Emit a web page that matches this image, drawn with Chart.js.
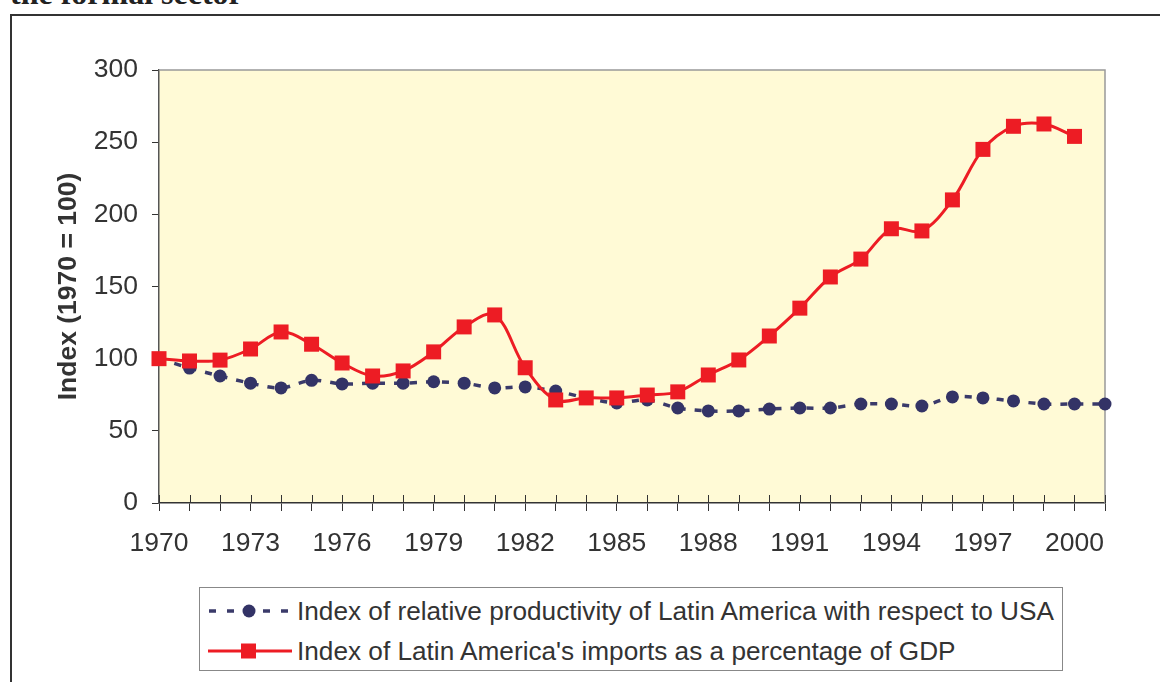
<!DOCTYPE html>
<html>
<head>
<meta charset="utf-8">
<script src="https://cdn.jsdelivr.net/npm/chart.js@4/dist/chart.umd.min.js"></script>
<style>
  html, body { margin: 0; padding: 0; background: #fff; }
  #wrap { position: relative; width: 1160px; height: 682px; overflow: hidden; }
  #title { position: absolute; left: 10px; top: -23px; font: bold 32px "Liberation Serif", "Times New Roman", serif; line-height: 32px; color: #222; white-space: nowrap; }
  #frame { position: absolute; left: 10px; top: 14px; width: 1200px; height: 700px; border-top: 2px solid #333; border-left: 2px solid #333; }
  #c { position: absolute; left: 0; top: 0; }
  #legend { position: absolute; left: 199px; top: 587px; width: 864px; height: 84px; border: 1px solid #888; background: #fff; box-sizing: border-box; }
  .row { position: absolute; left: 0; height: 36px; white-space: nowrap; }
  .row svg { position: absolute; left: 8px; top: 0; }
  .row span { position: absolute; left: 97px; font: 26.2px "Liberation Sans", Arial, sans-serif; color: #333; line-height: 36px; top: 0; }
</style>
</head>
<body>
<div id="wrap">
  <div id="title">the formal sector</div>
  <div id="frame"></div>
  <canvas id="c" width="1160" height="682"></canvas>
  <div id="legend">
    <div class="row" style="top:5px;">
      <svg width="84" height="36"><line x1="1" y1="18" x2="83" y2="18" stroke="#3a3a6a" stroke-width="3.5" stroke-dasharray="7,11"/><circle cx="41" cy="18" r="6.5" fill="#333366"/></svg>
      <span id="lab0"></span>
    </div>
    <div class="row" style="top:45px;">
      <svg width="84" height="36"><line x1="0" y1="18" x2="84" y2="18" stroke="#ED1C24" stroke-width="3"/><rect x="33" y="10.5" width="15" height="15" fill="#ED1C24"/></svg>
      <span id="lab1"></span>
    </div>
  </div>
</div>
<script>
const years = [1970,1971,1972,1973,1974,1975,1976,1977,1978,1979,1980,1981,1982,1983,1984,1985,1986,1987,1988,1989,1990,1991,1992,1993,1994,1995,1996,1997,1998,1999,2000,2001];
const productivity = [100,93.5,88,83,79.7,85,82.5,83,83,84,83,79.7,80.4,77.6,72.8,69.3,71.4,65.8,63.8,63.8,65.1,65.8,65.8,68.6,68.6,67.2,73.5,72.8,70.7,68.6,68.6,68.6];
const imports = [100,98.4,99,106.7,118.5,110,97,88,91.5,104.7,122,130.3,93.7,71.4,72.8,72.8,74.8,77,88.7,99.1,115.7,135,156.6,169,190,188.5,210,245,261,262.6,254];
const xTickLabels = ['1970','1973','1976','1979','1982','1985','1988','1991','1994','1997','2000'];
const yTicks = [0,50,100,150,200,250,300];
const seriesNames = ["Index of relative productivity of Latin America with respect to USA", "Index of Latin America's imports as a percentage of GDP"];
const yTitle = "Index (1970 = 100)";

document.getElementById('lab0').textContent = seriesNames[0];
document.getElementById('lab1').textContent = seriesNames[1];

const plotDeco = {
  id: 'plotDeco',
  beforeDraw(chart) {
    const {ctx, chartArea: a} = chart;
    ctx.save();
    ctx.fillStyle = '#FFFAD6';
    ctx.fillRect(a.left, a.top, a.right - a.left, a.bottom - a.top);
    ctx.restore();
  },
  beforeDatasetsDraw(chart) {
    const {ctx, chartArea: a} = chart;
    const xs = chart.scales.x;
    ctx.save();
    ctx.strokeStyle = '#999';
    ctx.lineWidth = 1.5;
    ctx.beginPath();
    ctx.moveTo(a.left, a.top); ctx.lineTo(a.right, a.top); ctx.lineTo(a.right, a.bottom);
    ctx.stroke();
    ctx.strokeStyle = '#333';
    ctx.lineWidth = 1;
    xs.ticks.forEach(t => {
      const px = Math.round(xs.getPixelForValue(t.value)) + 0.5;
      ctx.beginPath();
      ctx.moveTo(px, a.bottom - 8); ctx.lineTo(px, a.bottom);
      ctx.stroke();
    });
    ctx.restore();
  }
};

new Chart(document.getElementById('c'), {
  type: 'line',
  data: {
    datasets: [
      {
        label: seriesNames[0],
        data: years.map((y, i) => ({x: y, y: productivity[i]})),
        borderColor: '#3a3a6a',
        borderWidth: 3.5,
        borderDash: [7, 9],
        tension: 0.3,
        pointStyle: 'circle',
        pointRadius: 6.5,
        pointBackgroundColor: '#333366',
        pointBorderWidth: 0,
        clip: false,
        order: 2
      },
      {
        label: seriesNames[1],
        data: years.slice(0, imports.length).map((y, i) => ({x: y, y: imports[i]})),
        borderColor: '#ED1C24',
        borderWidth: 3,
        tension: 0.35,
        pointStyle: 'rect',
        pointRadius: 10.6,
        pointBackgroundColor: '#ED1C24',
        pointBorderWidth: 0,
        clip: false,
        order: 1
      }
    ]
  },
  options: {
    responsive: false,
    animation: false,
    events: [],
    layout: { padding: { left: 20, top: 70, right: 55, bottom: 119 } },
    plugins: { legend: { display: false }, tooltip: { enabled: false } },
    scales: {
      x: {
        type: 'linear',
        min: 1970, max: 2001,
        afterFit(s) { s.height = 60; },
        ticks: {
          stepSize: 1, autoSkip: false, maxRotation: 0, padding: 17,
          color: '#333',
          font: { family: '"Liberation Sans", Arial, sans-serif', size: 26.5 },
          callback: v => xTickLabels.includes(String(v)) ? String(v) : ''
        },
        grid: { drawOnChartArea: false, drawTicks: true, tickLength: 8, color: '#333', lineWidth: 1 },
        border: { display: true, color: '#333', width: 1.5 }
      },
      y: {
        min: 0, max: 300,
        afterFit(s) { s.width = 139; },
        afterBuildTicks(s) { s.ticks = yTicks.map(v => ({value: v})); },
        ticks: {
          padding: 14, color: '#333',
          font: { family: '"Liberation Sans", Arial, sans-serif', size: 26.5 }
        },
        grid: { drawOnChartArea: false, drawTicks: true, tickLength: 7, color: '#333', lineWidth: 1 },
        border: { display: true, color: '#555', width: 1.5 },
        title: {
          display: true, text: yTitle, color: '#333',
          font: { family: '"Liberation Sans", Arial, sans-serif', size: 26.5, weight: 'bold' },
          padding: { top: 33, bottom: 0 }
        }
      }
    }
  },
  plugins: [plotDeco]
});
</script>
</body>
</html>
